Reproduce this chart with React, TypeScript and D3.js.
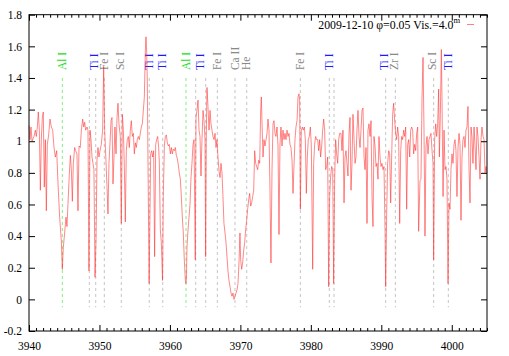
import { useEffect, useRef } from "react";
import * as d3 from "d3";

// wavelength (A), normalised flux
const spectrum: [number, number][] = [
  [3940.00, 1.10], [3940.14, 1.01], [3940.28, 1.09], [3940.43, 1.00], [3940.71, 1.03], [3940.90, 1.07],
  [3941.04, 1.03], [3941.18, 1.09], [3941.32, 1.185], [3941.47, 1.07], [3941.61, 0.69], [3941.75, 1.01],
  [3941.89, 1.15], [3942.03, 1.185], [3942.17, 0.71], [3942.32, 1.01], [3942.46, 0.56], [3942.60, 0.98],
  [3942.79, 1.04], [3942.98, 1.14], [3943.17, 1.09], [3943.36, 1.07], [3943.55, 0.96], [3943.74, 0.90],
  [3943.93, 0.94], [3944.12, 0.73], [3944.35, 0.52], [3944.59, 0.37], [3944.73, 0.19], [3944.87, 0.33],
  [3945.06, 0.42], [3945.25, 0.52], [3945.39, 0.46], [3945.53, 0.60], [3945.72, 0.79], [3945.87, 0.91],
  [3946.01, 0.82], [3946.15, 0.62], [3946.29, 0.86], [3946.48, 0.96], [3946.62, 0.94], [3946.81, 0.92],
  [3946.95, 0.56], [3947.10, 0.97], [3947.28, 0.96], [3947.43, 1.07], [3947.62, 1.14], [3947.76, 1.09],
  [3947.90, 1.12], [3948.04, 1.07], [3948.23, 1.09], [3948.37, 1.07], [3948.51, 0.18], [3948.66, 1.07],
  [3948.80, 1.01], [3948.94, 0.90], [3949.08, 0.86], [3949.22, 0.82], [3949.37, 0.14], [3949.51, 0.37],
  [3949.65, 0.88], [3949.79, 0.96], [3949.93, 0.90], [3950.08, 0.94], [3950.26, 0.98], [3950.45, 1.07],
  [3950.60, 1.47], [3950.74, 1.07], [3950.90, 0.90], [3951.07, 0.71], [3951.21, 0.54], [3951.35, 0.86],
  [3951.50, 0.99], [3951.64, 1.13], [3951.78, 1.15], [3951.92, 0.73], [3952.06, 0.90], [3952.20, 1.09],
  [3952.35, 0.92], [3952.49, 1.15], [3952.63, 1.24], [3952.77, 1.11], [3952.96, 1.03], [3953.10, 0.48],
  [3953.25, 1.17], [3953.39, 1.07], [3953.53, 0.84], [3953.67, 0.49], [3953.81, 0.94], [3953.95, 1.01],
  [3954.10, 1.03], [3954.24, 0.96], [3954.38, 1.07], [3954.52, 1.13], [3954.66, 1.03], [3954.81, 1.05],
  [3954.95, 0.92], [3955.09, 0.99], [3955.23, 0.96], [3955.37, 1.01], [3955.52, 1.03], [3955.66, 1.01],
  [3955.80, 1.05], [3955.94, 1.09], [3956.08, 1.11], [3956.23, 1.195], [3956.37, 1.28], [3956.51, 1.57],
  [3956.60, 1.66], [3956.70, 1.57], [3956.79, 1.38], [3956.89, 0.86], [3957.05, 0.10], [3957.14, 0.44],
  [3957.27, 0.92], [3957.41, 0.94], [3957.55, 0.90], [3957.69, 0.94], [3957.83, 0.27], [3957.98, 0.98],
  [3958.12, 1.01], [3958.26, 1.03], [3958.40, 0.96], [3958.50, 0.86], [3958.64, 0.44], [3958.78, 0.36],
  [3958.95, 0.12], [3959.06, 0.65], [3959.21, 0.97], [3959.35, 1.03], [3959.49, 1.04], [3959.63, 0.99],
  [3959.77, 0.97], [3959.91, 0.98], [3960.06, 0.92], [3960.20, 0.96], [3960.34, 0.92], [3960.48, 0.95],
  [3960.63, 0.94], [3960.77, 0.96], [3960.91, 0.91], [3961.05, 0.89], [3961.19, 0.85], [3961.33, 0.80],
  [3961.48, 0.76], [3961.62, 0.65], [3961.76, 0.52], [3961.90, 0.42], [3962.04, 0.25], [3962.19, 0.12],
  [3962.28, 0.10], [3962.35, 0.14], [3962.42, 0.33], [3962.57, 0.44], [3962.71, 0.52], [3962.85, 0.60],
  [3962.99, 0.77], [3963.13, 0.86], [3963.28, 0.98], [3963.42, 1.01], [3963.60, 0.25], [3963.70, 1.15],
  [3963.84, 1.195], [3963.99, 1.26], [3964.13, 1.07], [3964.27, 1.03], [3964.41, 0.78], [3964.55, 1.01],
  [3964.70, 1.195], [3964.84, 1.13], [3964.98, 1.01], [3965.07, 0.27], [3965.17, 1.07], [3965.26, 1.34],
  [3965.40, 1.22], [3965.55, 1.07], [3965.69, 1.195], [3965.83, 1.11], [3965.97, 1.07], [3966.11, 1.03],
  [3966.26, 1.01], [3966.40, 1.05], [3966.54, 0.96], [3966.68, 1.01], [3966.82, 0.90], [3966.97, 0.81],
  [3967.11, 0.77], [3967.25, 0.86], [3967.39, 0.80], [3967.53, 0.65], [3967.67, 0.48], [3967.82, 0.42],
  [3967.96, 0.36], [3968.10, 0.27], [3968.24, 0.18], [3968.38, 0.12], [3968.53, 0.08], [3968.67, 0.04],
  [3968.81, 0.02], [3968.95, 0.04], [3969.09, 0.00], [3969.24, 0.02], [3969.38, 0.04], [3969.52, 0.06],
  [3969.66, 0.10], [3969.80, 0.23], [3969.94, 0.42], [3970.04, 0.25], [3970.18, 0.19], [3970.32, 0.23],
  [3970.47, 0.31], [3970.61, 0.36], [3970.75, 0.44], [3970.89, 0.50], [3971.03, 0.57], [3971.18, 0.63],
  [3971.32, 0.67], [3971.46, 0.59], [3971.60, 0.61], [3971.74, 0.65], [3971.89, 0.69], [3972.03, 0.94],
  [3972.17, 0.86], [3972.31, 0.84], [3972.45, 0.82], [3972.60, 0.88], [3972.74, 0.86], [3972.88, 1.195],
  [3972.97, 1.28], [3973.21, 0.90], [3973.35, 1.01], [3973.49, 0.97], [3973.64, 1.01], [3973.78, 1.05],
  [3973.92, 1.14], [3974.06, 1.07], [3974.20, 0.69], [3974.34, 0.23], [3974.49, 0.82], [3974.63, 1.11],
  [3974.77, 1.13], [3974.91, 1.05], [3975.05, 1.03], [3975.20, 1.09], [3975.34, 0.97], [3975.48, 0.41],
  [3975.62, 0.98], [3975.76, 1.09], [3975.91, 0.97], [3976.05, 1.07], [3976.19, 1.01], [3976.33, 1.05],
  [3976.47, 1.01], [3976.62, 1.07], [3976.76, 1.03], [3976.90, 1.05], [3977.04, 0.98], [3977.18, 0.96],
  [3977.33, 0.88], [3977.47, 0.67], [3977.61, 0.85], [3977.75, 1.01], [3977.89, 1.09], [3978.04, 1.13],
  [3978.18, 1.28], [3978.32, 1.30], [3978.41, 1.26], [3978.51, 0.57], [3978.65, 1.07], [3978.79, 1.09],
  [3978.93, 1.07], [3979.08, 1.09], [3979.22, 1.01], [3979.36, 0.67], [3979.50, 0.90], [3979.64, 1.01],
  [3979.78, 1.03], [3979.93, 1.09], [3980.07, 0.97], [3980.26, 0.19], [3980.40, 0.86], [3980.54, 0.98],
  [3980.68, 1.03], [3980.83, 1.01], [3980.97, 1.01], [3981.11, 0.94], [3981.25, 1.01], [3981.39, 0.90],
  [3981.54, 0.97], [3981.68, 1.07], [3981.82, 1.14], [3981.96, 1.07], [3982.10, 0.82], [3982.25, 0.84],
  [3982.39, 0.90], [3982.53, 0.08], [3982.67, 0.65], [3982.81, 0.78], [3982.96, 0.84], [3983.10, 0.82],
  [3983.24, 0.10], [3983.38, 0.76], [3983.52, 1.01], [3983.66, 0.92], [3983.81, 0.86], [3983.95, 1.01],
  [3984.09, 1.05], [3984.28, 1.05], [3984.42, 0.94], [3984.56, 1.07], [3984.71, 0.61], [3984.85, 0.90],
  [3984.99, 0.94], [3985.13, 0.86], [3985.27, 0.78], [3985.42, 1.05], [3985.56, 1.15], [3985.70, 0.69],
  [3985.84, 0.86], [3985.98, 1.17], [3986.13, 1.01], [3986.27, 0.86], [3986.41, 0.90], [3986.55, 1.07],
  [3986.69, 1.195], [3986.84, 1.03], [3986.98, 0.96], [3987.12, 1.07], [3987.26, 1.195], [3987.40, 1.21],
  [3987.55, 0.90], [3987.69, 0.82], [3987.83, 0.96], [3987.97, 0.48], [3988.11, 1.07], [3988.25, 1.11],
  [3988.40, 1.03], [3988.54, 1.13], [3988.68, 0.65], [3988.82, 0.46], [3988.96, 1.03], [3989.11, 0.97],
  [3989.25, 0.84], [3989.39, 0.86], [3989.53, 0.76], [3989.67, 1.03], [3989.82, 0.90], [3989.96, 0.84],
  [3990.10, 0.86], [3990.24, 0.82], [3990.38, 0.84], [3990.53, 0.44], [3990.62, 0.08], [3990.76, 0.54],
  [3990.90, 0.86], [3991.05, 0.94], [3991.19, 0.92], [3991.33, 0.61], [3991.47, 0.90], [3991.61, 1.17],
  [3991.75, 1.24], [3991.90, 1.13], [3992.04, 1.05], [3992.18, 1.01], [3992.32, 1.09], [3992.46, 1.03],
  [3992.61, 0.48], [3992.75, 0.94], [3992.89, 1.03], [3993.03, 1.01], [3993.17, 1.07], [3993.32, 1.03],
  [3993.46, 1.09], [3993.60, 0.57], [3993.74, 0.98], [3993.88, 1.01], [3994.03, 0.90], [3994.17, 1.07],
  [3994.31, 1.09], [3994.45, 1.07], [3994.59, 0.92], [3994.74, 0.98], [3994.88, 0.94], [3995.02, 1.05],
  [3995.16, 1.09], [3995.30, 0.43], [3995.49, 0.75], [3995.63, 0.76], [3995.78, 1.28], [3995.92, 1.53],
  [3996.06, 1.07], [3996.20, 0.40], [3996.34, 0.97], [3996.49, 1.03], [3996.63, 0.92], [3996.77, 1.01],
  [3996.91, 1.03], [3997.05, 1.05], [3997.20, 0.94], [3997.34, 0.86], [3997.43, 0.25], [3997.57, 1.01],
  [3997.72, 1.11], [3997.86, 1.03], [3998.00, 1.11], [3998.14, 1.33], [3998.24, 0.90], [3998.38, 1.17],
  [3998.52, 1.58], [3998.61, 1.28], [3998.76, 0.65], [3998.90, 1.07], [3999.04, 0.82], [3999.18, 0.84],
  [3999.32, 0.76], [3999.47, 0.10], [3999.61, 0.61], [3999.75, 0.57], [3999.89, 0.82], [4000.03, 0.92],
  [4000.18, 0.86], [4000.32, 0.98], [4000.46, 1.01], [4000.60, 0.94], [4000.74, 0.65], [4000.89, 0.96],
  [4001.03, 1.05], [4001.17, 0.98], [4001.31, 0.50], [4001.45, 0.90], [4001.59, 1.01], [4001.74, 1.03],
  [4001.88, 0.96], [4002.02, 1.07], [4002.16, 1.09], [4002.30, 1.22], [4002.45, 0.82], [4002.59, 0.61],
  [4002.73, 1.09], [4002.87, 1.03], [4003.01, 0.86], [4003.16, 1.09], [4003.30, 0.97], [4003.44, 0.82],
  [4003.58, 1.09], [4003.72, 1.03], [4003.87, 0.90], [4004.01, 0.76], [4004.15, 1.01], [4004.29, 1.09],
  [4004.44, 1.03], [4004.58, 1.01], [4004.72, 0.80], [4004.86, 0.84], [4005.00, 0.80],
];

// identified lines (dashed markers)
const alLines = [3944.73, 3962.28];
const otherLines = [
  3948.56, 3949.47, 3950.69, 3953.10, 3957.07, 3958.98, 3963.66, 3965.08, 3966.73,
  3969.24, 3970.90, 3978.51, 3982.62, 3983.29, 3990.62, 3991.99, 3997.43, 3999.51,
];

// line ids printed above the markers
const labelNames = [
  "Al I", "Ti I", "Fe I", "Sc I", "Ti I", "Ti I", "Al I", "Ti I", "Fe I", "Ca II", "He",
  "Fe I", "Ti I", "Ti I", "Zr I", "Sc I", "Ti I",
];
const labelWaves = [
  3944.73, 3949.23, 3950.57, 3952.96, 3956.98, 3958.88, 3962.24, 3964.22, 3966.73, 3969.19, 3970.80,
  3978.42, 3982.53, 3990.43, 3991.85, 3997.24, 3999.42,
];

const xMajor = [3940, 3950, 3960, 3970, 3980, 3990, 4000];
const yTicks = [-0.2, 0, 0.2, 0.4, 0.6, 0.8, 1, 1.2, 1.4, 1.6, 1.8];
const legendText = "2009-12-10 \u03c6=0.05 Vis.=4.0";
const legendSup = "m";

const W = 509, H = 356;
const FONT = "'Liberation Serif', 'Times New Roman', serif";

const App = () => {
  const svgRef = useRef<SVGSVGElement>(null);

  useEffect(() => {
    const svg = d3.select(svgRef.current);
    svg.selectAll("*").remove();

    const x = d3.scaleLinear().domain([3940, 4005]).range([29, 487]);
    const y = d3.scaleLinear().domain([-0.2, 1.8]).range([331, 14.7]);
    const minor = d3.range(3940, 4006, 1).filter(d => d % 10 !== 0);

    // marker lines
    const marks = svg.append("g").attr("stroke-width", 1).attr("stroke-dasharray", "3,3");
    marks.selectAll("line.al").data(alLines).join("line")
      .attr("x1", d => x(d)).attr("x2", d => x(d))
      .attr("y1", y(1.4)).attr("y2", y(-0.05))
      .attr("stroke", "#7ef07e");
    marks.selectAll("line.o").data(otherLines).join("line")
      .attr("x1", d => x(d)).attr("x2", d => x(d))
      .attr("y1", y(1.4)).attr("y2", y(-0.05))
      .attr("stroke", "#c4c4c4");

    // labels
    const color = (n: string) => n.startsWith("Al") ? "#22dd22" : n.startsWith("Ti") ? "#1a1aff" : "#888888";
    svg.append("g").selectAll("text").data(labelNames).join("text")
      .attr("transform", (_, i) => `translate(${x(labelWaves[i])},${y(1.45)}) rotate(-90)`)
      .attr("dy", "0.35em")
      .attr("font-family", FONT).attr("font-size", 11.5)
      .attr("fill", d => color(d))
      .text(d => d);

    // spectrum
    const line = d3.line<[number, number]>().x(d => x(d[0])).y(d => y(d[1]));
    svg.append("path").datum(spectrum)
      .attr("d", line)
      .attr("fill", "none")
      .attr("stroke", "#ff2a2a")
      .attr("stroke-opacity", 0.8)
      .attr("stroke-width", 0.7)
      .attr("stroke-linejoin", "round");

    // axes (gnuplot style: inward ticks, mirrored)
    const styleAxis = (g: any) => {
      g.select(".domain").remove();
      g.selectAll("line").attr("stroke", "#000");
      g.selectAll("text").attr("font-family", FONT).attr("font-size", 11.5).attr("fill", "#000");
    };
    const fmt = (d: any) => String(+(+d).toFixed(1));

    svg.append("g").attr("transform", "translate(0,331)")
      .call(d3.axisBottom(x).tickValues(xMajor).tickSize(-6).tickPadding(11).tickFormat(d => String(d)))
      .call(styleAxis);
    svg.append("g").attr("transform", "translate(0,331)")
      .call(d3.axisBottom(x).tickValues(minor).tickSize(-3).tickFormat(() => ""))
      .call(styleAxis);
    svg.append("g").attr("transform", "translate(0,14.7)")
      .call(d3.axisTop(x).tickValues(xMajor).tickSize(-6).tickFormat(() => ""))
      .call(styleAxis);
    svg.append("g").attr("transform", "translate(0,14.7)")
      .call(d3.axisTop(x).tickValues(minor).tickSize(-3).tickFormat(() => ""))
      .call(styleAxis);
    svg.append("g").attr("transform", "translate(29,0)")
      .call(d3.axisLeft(y).tickValues(yTicks).tickSize(-6).tickPadding(7).tickFormat(fmt))
      .call(styleAxis);
    svg.append("g").attr("transform", "translate(487,0)")
      .call(d3.axisRight(y).tickValues(yTicks).tickSize(-6).tickFormat(() => ""))
      .call(styleAxis);

    // frame
    svg.append("rect")
      .attr("x", 29).attr("y", 14.7).attr("width", 458).attr("height", 331 - 14.7)
      .attr("fill", "none").attr("stroke", "#000").attr("stroke-width", 1);

    // key
    const key = svg.append("text")
      .attr("x", 460).attr("y", 29)
      .attr("text-anchor", "end")
      .attr("font-family", FONT).attr("font-size", 11.8)
      .attr("fill", "#000");
    key.append("tspan").text(legendText);
    key.append("tspan").attr("dy", -6).attr("font-size", 8.5).text(legendSup);
    svg.append("line")
      .attr("x1", 467).attr("x2", 474).attr("y1", 24.5).attr("y2", 24.5)
      .attr("stroke", "#ff8080").attr("stroke-width", 1);
  }, []);

  return (
    <svg ref={svgRef} width={W} height={H}
      style={{ position: "absolute", left: 0, top: 0, background: "#fff" }} />
  );
};

export default App;
